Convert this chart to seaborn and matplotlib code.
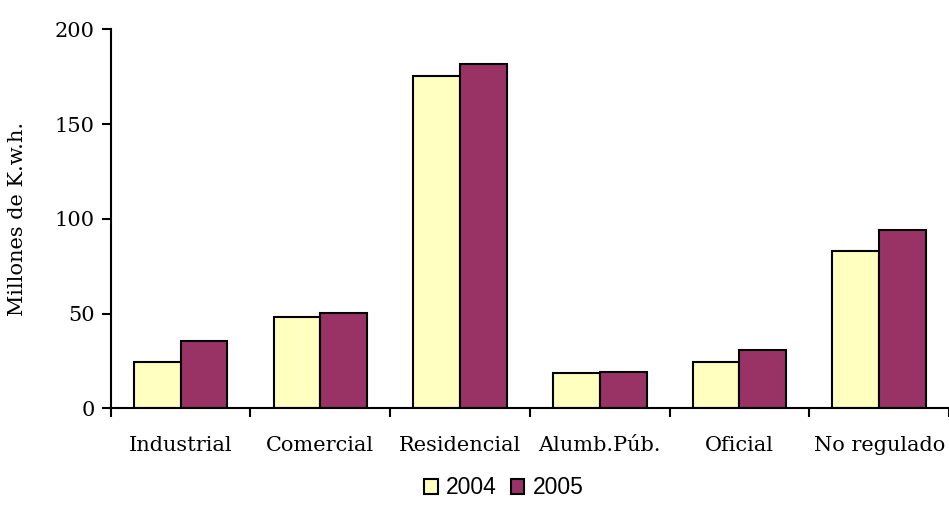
import matplotlib
matplotlib.use("Agg")
import matplotlib.pyplot as plt
import seaborn as sns
import pandas as pd

# ── Data ──────────────────────────────────────────────────────────────────────
categories = ["Industrial", "Comercial", "Residencial", "Alumb.Púb.", "Oficial", "No regulado"]
years = ["2004", "2005"]
values_2004 = [24.6, 48.3, 175.4, 18.5, 24.4, 83.0]
values_2005 = [35.7, 50.1, 181.5, 19.3, 30.6, 94.1]
y_ticks = [0, 50, 100, 150, 200]

COLORS = {"2004": "#FFFFC0", "2005": "#993366"}

df = pd.DataFrame({
    "categoria": categories * 2,
    "anio": [years[0]] * len(categories) + [years[1]] * len(categories),
    "valor": values_2004 + values_2005,
})

# ── Plot ──────────────────────────────────────────────────────────────────────
sns.set_style("ticks")
plt.rcParams["font.family"] = ["DejaVu Serif"]
for key in ["text.color", "axes.labelcolor", "xtick.color", "ytick.color", "axes.edgecolor"]:
    plt.rcParams[key] = "black"

fig = plt.figure(figsize=(9.49, 5.05), dpi=100)
ax = fig.add_axes([0.1167, 0.1915, 0.8833, 0.7505])

sns.barplot(data=df, x="categoria", y="valor", hue="anio", palette=COLORS,
            saturation=1, width=0.67, edgecolor="black", linewidth=1.5,
            ax=ax, legend=False)

ax.set_ylim(0, 200)
ax.set_xlim(-0.5, len(categories) - 0.5)
ax.set_yticks(y_ticks)
ax.set_yticklabels([str(t) for t in y_ticks], fontsize=15)

# category labels centred, ticks at the category boundaries
ax.set_xticks(range(len(categories)))
ax.set_xticklabels(categories, fontsize=15)
ax.tick_params(axis="x", which="major", length=0, pad=20)
ax.set_xticks([i - 0.5 for i in range(len(categories) + 1)], minor=True)
ax.tick_params(axis="x", which="minor", bottom=True, length=6.5, width=1.5, direction="out")
ax.tick_params(axis="y", left=True, length=6.5, width=1.5, direction="out", pad=5)

for side in ["top", "right"]:
    ax.spines[side].set_visible(False)
for side in ["left", "bottom"]:
    ax.spines[side].set_linewidth(1.5)

ax.set_xlabel("")
ax.set_ylabel("Millones de K.w.h.", fontsize=15)
ax.yaxis.set_label_coords((27 - 110.7) / 838, 0.5)

handles = [plt.Rectangle((0, 0), 1, 1, facecolor=COLORS[y], edgecolor="black", linewidth=1.5)
           for y in years]
fig.legend(handles, years, loc="center", bbox_to_anchor=(0.531, 0.034), ncol=2,
           frameon=False, handlelength=0.6, handleheight=0.6, handletextpad=0.35,
           columnspacing=0.6, borderpad=0, prop={"family": "Liberation Sans", "size": 16.5})

fig.savefig("out.png", dpi=100)
